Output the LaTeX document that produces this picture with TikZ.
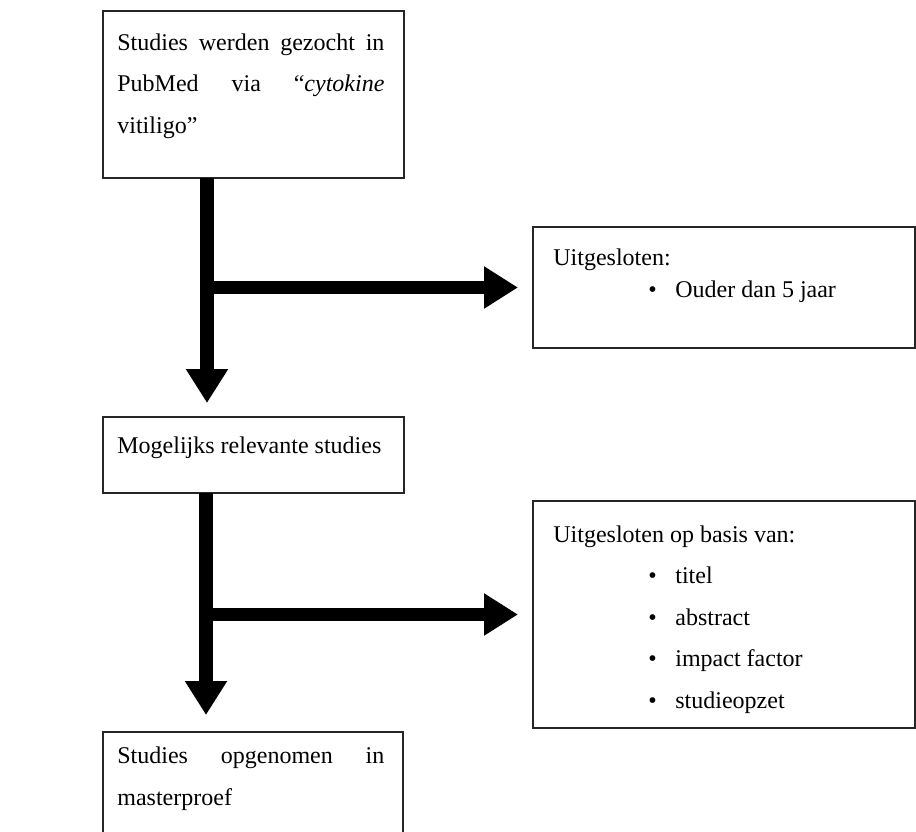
\documentclass[tikz,border=0pt]{standalone}
\usepackage{fontspec}
\setmainfont{Liberation Serif}
\usetikzlibrary{arrows.meta}

\newcommand{\vulregel}[1]{\makebox[133.5pt][s]{#1}}
\newcommand{\opsom}{\hspace*{47.5pt}\makebox[13.5pt][l]{•}}

\begin{document}
\begin{tikzpicture}[
  x=0.5pt, y=-0.5pt,
  kader/.style={draw=black!85, line width=0.7pt, inner sep=0pt, outer sep=0pt, anchor=north west},
  tekst/.style={inner sep=0pt, anchor=base west, align=left, font=\fontsize{12}{20.75}\selectfont},
  pijl/.style={line width=6.75pt, -{Triangle[width=20pt, length=17pt]}}
]
  \useasboundingbox (0,0) rectangle (916,831);
  \clip (0,0) rectangle (916,831);

  % Kaders
  \node[kader, minimum width=150.5pt, minimum height=83.5pt] (zoek) at (103,11) {};
  \node[kader, minimum width=150.5pt, minimum height=38pt] (mogelijk) at (103,417) {};
  \node[kader, minimum width=150pt, minimum height=64pt] (opgenomen) at (103,732) {};
  \node[kader, minimum width=191pt, minimum height=60.5pt] (uitsl1) at (533,227) {};
  \node[kader, minimum width=191pt, minimum height=113.5pt] (uitsl2) at (533,501) {};

  % Teksten (base = laatste regel)
  \node[tekst] (zoektxt) at (117,133) {\vulregel{Studies werden gezocht in}\\
    \vulregel{PubMed via “\textit{cytokine}}\\ vitiligo”};
  \node[tekst] (mogelijktxt) at (117,453) {Mogelijks relevante studies};
  \node[tekst] (opgenomentxt) at (117,805) {\vulregel{Studies opgenomen in}\\ masterproef};
  \node[tekst, font=\fontsize{12}{16}\selectfont] (uitsl1txt) at (553,297)
    {Uitgesloten:\\ \opsom Ouder dan 5 jaar};
  \node[tekst] (uitsl2txt) at (553,708) {Uitgesloten op basis van:\\
    \opsom titel\\ \opsom abstract\\ \opsom impact factor\\ \opsom studieopzet};

  % Pijlen
  \coordinate (stam1) at ([xshift=52pt]zoek.south west);
  \coordinate (stam2) at ([xshift=51.5pt]mogelijk.south west);
  \draw[pijl, shorten >=7pt] (stam1) -- (stam1 |- mogelijk.north);
  \draw[pijl, shorten >=7.5pt] (stam1 |- uitsl1.west) -- (uitsl1.west);
  \draw[pijl, shorten >=8.5pt] (stam2) -- (stam2 |- opgenomen.north);
  \draw[pijl, shorten >=7.5pt] (stam2 |- uitsl2.west) -- (uitsl2.west);

\end{tikzpicture}
\end{document}
